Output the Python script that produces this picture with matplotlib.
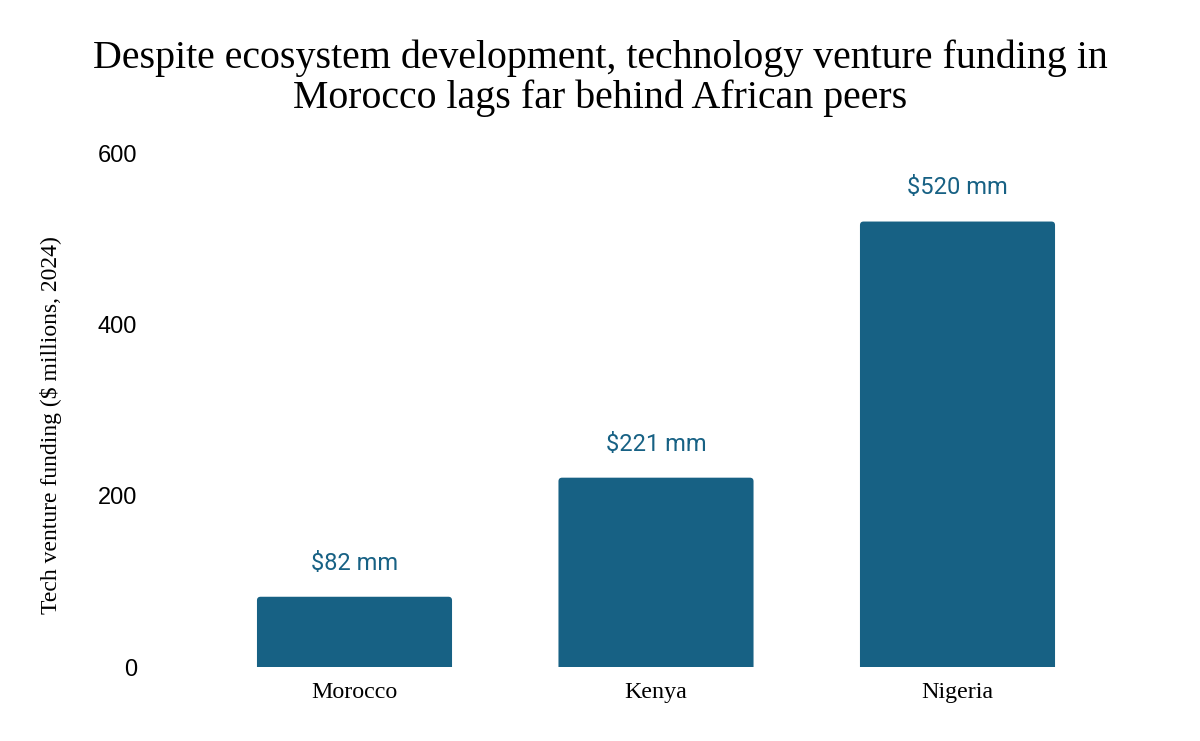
import matplotlib.pyplot as plt
from matplotlib.patches import FancyBboxPatch

countries = ["Morocco", "Kenya", "Nigeria"]
funding = [82, 221, 520]
labels = ["$82 mm", "$221 mm", "$520 mm"]

bar_color = "#176184"

fig = plt.figure(figsize=(12, 7.41), dpi=100)
ax = fig.add_axes([203.75 / 1200, 74 / 741, 904.5 / 1200, 514 / 741])

x = list(range(len(countries)))
bars = ax.bar(x, funding, width=0.647, color=bar_color)

# swap plain bars for ones with slightly rounded tops
for b in bars:
    bx, by = b.get_x(), b.get_y()
    bw, bh = b.get_width(), b.get_height()
    b.remove()
    rounded = FancyBboxPatch((bx, by - 20), bw, bh + 20,
                             boxstyle="round,pad=0,rounding_size=0.012",
                             mutation_aspect=352, color=bar_color, lw=0)
    ax.add_patch(rounded)

for xi, val, lab in zip(x, funding, labels):
    ax.annotate(lab.replace("$", r"\$"), (xi, val), xytext=(0, 19.5),
                textcoords="offset points", ha="center", va="baseline",
                fontsize=17, color=bar_color, family="Roboto")

ax.set_xlim(-0.5, 2.5)
ax.set_ylim(0, 600)
ax.set_yticks([0, 200, 400, 600])
ax.set_xticks(x)
ax.set_xticklabels(countries, family="Liberation Serif", fontsize=17.3)
ax.tick_params(axis="y", length=0, pad=48, labelsize=17)
ax.tick_params(axis="x", length=0, pad=11)
for lbl in ax.get_yticklabels():
    lbl.set_family("Liberation Sans")
for s in ax.spines.values():
    s.set_visible(False)

ax.set_ylabel("Tech venture funding ($ millions, 2024)", family="Liberation Serif",
              fontsize=17)
ax.yaxis.set_label_coords(-0.157, 0.47)

fig.text(0.5, 1 - 78 / 741,
         "Despite ecosystem development, technology venture funding in\n"
         "Morocco lags far behind African peers",
         family="Liberation Serif", fontsize=28.7, ha="center", va="center",
         linespacing=1.08)

fig.savefig("out.png", dpi=100)
